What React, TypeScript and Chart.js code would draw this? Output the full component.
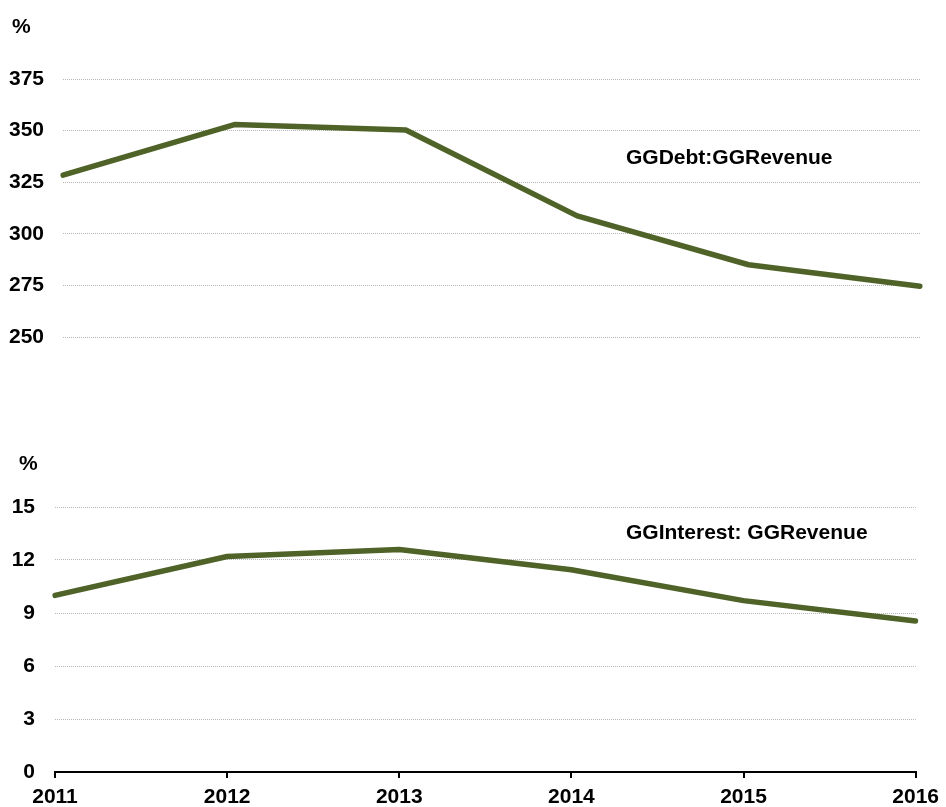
import React, { useEffect, useRef } from "react";
import { Chart, registerables } from "chart.js";

Chart.register(...registerables);

// Years on the shared horizontal axis
const years = ["2011", "2012", "2013", "2014", "2015", "2016"];

// General government debt to revenue, %
const debtToRevenue = [328.4, 352.9, 350.3, 308.7, 285.0, 274.6];

// General government interest to revenue, %
const interestToRevenue = [10.0, 12.2, 12.6, 11.45, 9.7, 8.55];

// Axis ranges
const debtAxis = { min: 250, max: 375, step: 25 };
const interestAxis = { min: 0, max: 15, step: 3 };

const LINE = "#4F6228";
const GRID = "#b5b5b5";
const FONT_FAMILY = "'Liberation Sans', Arial, sans-serif";
const tickFont = { family: FONT_FAMILY, size: 21, weight: "bold" as const };

type Label = { text: string; x: number; y: number };

// Draws free-standing text labels (unit marker and series name) on the canvas
const textPlugin = (labels: Label[]) => ({
  id: "panelText",
  afterDraw(chart: Chart) {
    const ctx = chart.ctx;
    ctx.save();
    ctx.fillStyle = "#000";
    ctx.font = `bold 21px ${FONT_FAMILY}`;
    ctx.textBaseline = "middle";
    ctx.textAlign = "left";
    labels.forEach((l) => ctx.fillText(l.text, l.x, l.y));
    ctx.restore();
  },
});

function Panel(props: {
  values: number[];
  axis: { min: number; max: number; step: number };
  width: number;
  height: number;
  top: number;
  padTop: number;
  padRight: number;
  yWidth: number;
  yPad: number;
  showXLabels: boolean;
  xHeight: number;
  labels: Label[];
}) {
  const ref = useRef<HTMLCanvasElement | null>(null);

  useEffect(() => {
    if (!ref.current) return;
    const show = props.showXLabels;
    const chart = new Chart(ref.current, {
      type: "line",
      data: {
        labels: years,
        datasets: [
          {
            data: props.values,
            borderColor: LINE,
            borderWidth: 5.5,
            pointRadius: 0,
            tension: 0,
            borderCapStyle: "round",
            borderJoinStyle: "round",
            fill: false,
          },
        ],
      },
      options: {
        responsive: false,
        animation: false,
        layout: {
          padding: { top: props.padTop, right: props.padRight, bottom: 0, left: 0 },
        },
        plugins: {
          legend: { display: false },
          tooltip: { enabled: false },
        },
        scales: {
          x: {
            display: true,
            offset: false,
            grid: {
              display: show,
              drawOnChartArea: false,
              drawTicks: show,
              tickLength: 6,
              color: "#000",
              lineWidth: 2,
            },
            border: { display: show, color: "#000", width: 2 },
            ticks: {
              display: show,
              color: "#000",
              font: tickFont,
              padding: 7,
              maxRotation: 0,
              autoSkip: false,
            },
            afterFit(scale: any) {
              scale.height = props.xHeight;
            },
          },
          y: {
            min: props.axis.min,
            max: props.axis.max,
            // dash applies to the horizontal grid lines
            border: { display: false, dash: [1, 1] },
            grid: {
              drawTicks: false,
              color: GRID,
              lineWidth: 1,
            },
            ticks: {
              stepSize: props.axis.step,
              color: "#000",
              font: tickFont,
              padding: props.yPad,
            },
            afterFit(scale: any) {
              scale.width = props.yWidth;
              // vertical room is set by the layout padding and the x axis height
              scale.paddingTop = 0;
              scale.paddingBottom = 0;
            },
          },
        },
      },
      plugins: [textPlugin(props.labels)],
    });
    return () => chart.destroy();
  }, []);

  return (
    <canvas
      ref={ref}
      width={props.width}
      height={props.height}
      style={{
        position: "absolute",
        left: 0,
        top: props.top,
        width: props.width,
        height: props.height,
      }}
    />
  );
}

export default function App() {
  return (
    <div
      style={{
        position: "fixed",
        left: 0,
        top: 0,
        width: 946,
        height: 807,
        overflow: "hidden",
        background: "#fff",
      }}
    >
      <Panel
        values={debtToRevenue}
        axis={debtAxis}
        width={946}
        height={360}
        top={0}
        padTop={79}
        padRight={26}
        yWidth={63}
        yPad={19}
        showXLabels={false}
        xHeight={23}
        labels={[
          { text: "%", x: 12, y: 27 },
          { text: "GGDebt:GGRevenue", x: 626, y: 158 },
        ]}
      />
      <Panel
        values={interestToRevenue}
        axis={interestAxis}
        width={946}
        height={380}
        top={440}
        padTop={67}
        padRight={28}
        yWidth={55}
        yPad={20}
        showXLabels={true}
        xHeight={48}
        labels={[
          { text: "%", x: 19, y: 24 },
          { text: "GGInterest: GGRevenue", x: 626, y: 93 },
        ]}
      />
    </div>
  );
}
